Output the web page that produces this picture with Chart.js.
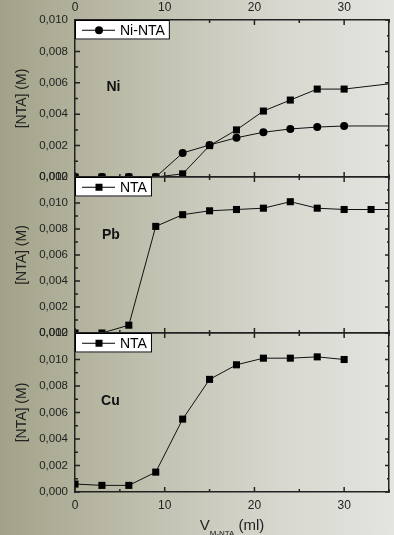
<!DOCTYPE html>
<html>
<head>
<meta charset="utf-8">
<script src="https://cdn.jsdelivr.net/npm/chart.js@4.4.0/dist/chart.umd.min.js"></script>
<style>
html, body { margin: 0; padding: 0; }
body {
  width: 394px; height: 535px; position: relative; overflow: hidden;
  background: linear-gradient(90deg, #a3a288 0%, #c2c2b2 40%, #d8d8d0 72%, #e4e4e0 100%);
}
canvas { position: absolute; left: 0; top: 0; }
</style>
</head>
<body>
<canvas id="niChart" width="394" height="535"></canvas>
<canvas id="pbChart" width="394" height="535"></canvas>
<canvas id="cuChart" width="394" height="535"></canvas>
<script>
// volume added (ml) and concentrations (M)
var niVol = [0, 3, 6, 9, 12, 15, 18, 21, 24, 27, 30, 36];
var niNTA = [0, 0, 0, 0, 0.00153, 0.00204, 0.0025, 0.00285, 0.00306, 0.00318, 0.00325, 0.00325];
var niFree = [0, 0, 0, 0, 0.0002, 0.002, 0.003, 0.0042, 0.0049, 0.0056, 0.0056, 0.006];

var pbVol = [0, 3, 6, 9, 12, 15, 18, 21, 24, 27, 30, 33, 36];
var pbNTA = [0, 0, 0.0006, 0.0082, 0.0091, 0.0094, 0.0095, 0.0096, 0.0101, 0.0096, 0.0095, 0.0095, 0.0095];

var cuVol = [0, 3, 6, 9, 12, 15, 18, 21, 24, 27, 30];
var cuNTA = [0.0006, 0.0005, 0.0005, 0.0015, 0.0055, 0.0085, 0.0096, 0.0101, 0.0101, 0.0102, 0.0100];

var xTicks = [0, 10, 20, 30];
var yTicksNi = [0, 0.002, 0.004, 0.006, 0.008, 0.010];
var yTicksMetal = [0, 0.002, 0.004, 0.006, 0.008, 0.010, 0.012];

Chart.defaults.font.family = '"Liberation Sans", Arial, sans-serif';
Chart.defaults.color = '#222';

var FONT = '"Liberation Sans", Arial, sans-serif';

function pts(xs, ys) {
  return xs.map(function (x, i) { return { x: x, y: ys[i] }; });
}

function series(label, xs, ys, style) {
  return {
    label: label,
    data: pts(xs, ys),
    borderColor: '#111',
    backgroundColor: '#000',
    borderWidth: 1,
    pointStyle: style,
    pointRadius: style === 'rect' ? 5 : 4,
    pointBorderWidth: 0,
    tension: 0
  };
}

function xScale(pos, h, showLabels) {
  return {
    type: 'linear', position: pos, min: 0, max: 35,
    afterBuildTicks: function (s) { s.ticks = xTicks.map(function (v) { return { value: v }; }); },
    afterFit: function (s) { s.height = h; s.paddingLeft = 0; s.paddingRight = 0; },
    grid: { drawOnChartArea: false, drawTicks: false },
    border: { color: '#222', width: 1.5 },
    ticks: { display: showLabels, padding: pos === 'top' ? 5 : 6, font: { size: 12 }, maxRotation: 0 }
  };
}

function yScale(pos, ticksArr, ymax) {
  var left = pos === 'left';
  return {
    type: 'linear', position: pos, min: 0, max: ymax,
    afterBuildTicks: function (s) { s.ticks = ticksArr.map(function (v) { return { value: v }; }); },
    afterFit: function (s) { s.width = left ? 75 : 1; s.paddingTop = 0; s.paddingBottom = 0; },
    grid: { drawOnChartArea: false, drawTicks: false },
    border: { color: '#222', width: 1.5 },
    title: { display: left, text: '[NTA] (M)', font: { size: 14 }, padding: { top: 14, bottom: 0 } },
    ticks: {
      display: left, padding: 7, font: { size: 11.5 },
      callback: function (v) { return Number(v).toFixed(3).replace('.', ','); }
    }
  };
}

// inward ticks, legend box, panel label
function decor(p) {
  return {
    id: 'decor',
    afterDraw: function (chart) {
      var ctx = chart.ctx, a = chart.chartArea;
      var xs = chart.scales.x, ys = chart.scales.y;
      ctx.save();
      ctx.strokeStyle = '#222';
      ctx.lineWidth = 1.5;
      ctx.beginPath();
      for (var v = 0; v <= 35; v += 5) {
        var px = xs.getPixelForValue(v);
        var len = v % 10 === 0 ? 5 : 3;
        ctx.moveTo(px, a.top); ctx.lineTo(px, a.top + len);
        ctx.moveTo(px, a.bottom); ctx.lineTo(px, a.bottom - len);
      }
      var n = Math.round(p.ymax * 1000);
      for (var i = 0; i <= n; i++) {
        var py = ys.getPixelForValue(i / 1000);
        var l = i % 2 === 0 ? 5 : 3;
        ctx.moveTo(a.left, py); ctx.lineTo(a.left + l, py);
        ctx.moveTo(a.right, py); ctx.lineTo(a.right - l + 1, py);
      }
      ctx.stroke();

      // legend
      ctx.font = '14px ' + FONT;
      var tw = ctx.measureText(p.legend).width;
      var x0 = a.left, y0 = a.top, h = 19.5, w = 45 + tw + 5;
      ctx.fillStyle = '#fff';
      ctx.fillRect(x0, y0, w, h);
      ctx.strokeStyle = '#000';
      ctx.lineWidth = 1;
      ctx.strokeRect(x0 + 0.5, y0 + 0.5, w - 1, h - 1);
      var my = y0 + h / 2 + 0.5;
      ctx.beginPath();
      ctx.moveTo(x0 + 7, my); ctx.lineTo(x0 + 40, my);
      ctx.stroke();
      ctx.fillStyle = '#000';
      if (p.marker === 'circle') {
        ctx.beginPath(); ctx.arc(x0 + 24, my, 4, 0, Math.PI * 2); ctx.fill();
      } else {
        ctx.fillRect(x0 + 20.5, my - 3.5, 7, 7);
      }
      ctx.textBaseline = 'middle';
      ctx.fillText(p.legend, x0 + 45, my + 0.5);

      // metal label
      ctx.font = 'bold 14px ' + FONT;
      ctx.textBaseline = 'alphabetic';
      ctx.fillStyle = '#111';
      ctx.fillText(p.name, xs.getPixelForValue(p.nameAt[0]), ys.getPixelForValue(p.nameAt[1]));

      // x axis title with subscript
      if (p.xTitle) {
        var parts = [['V', 15, 0], ['M-NTA', 8, 6], [' (ml)', 15, 0]];
        var total = 0;
        parts.forEach(function (q) { ctx.font = q[1] + 'px ' + FONT; total += ctx.measureText(q[0]).width; });
        var cx = (a.left + a.right) / 2 - total / 2;
        ctx.fillStyle = '#222';
        parts.forEach(function (q) {
          ctx.font = q[1] + 'px ' + FONT;
          ctx.fillText(q[0], cx, 530 + q[2]);
          cx += ctx.measureText(q[0]).width;
        });
      }
      ctx.restore();
    }
  };
}

function panel(id, p) {
  return new Chart(document.getElementById(id), {
    type: 'line',
    data: { datasets: p.datasets },
    options: {
      responsive: false,
      animation: false,
      devicePixelRatio: 1,
      layout: { padding: { top: p.padTop, bottom: p.padBottom, left: 0, right: 0 } },
      plugins: { legend: { display: false }, tooltip: { enabled: false } },
      scales: {
        x: xScale('bottom', p.bottomH, p.xTitle),
        x2: xScale('top', p.topH, p.topLabels),
        y: yScale('left', p.yTicks, p.ymax),
        y2: yScale('right', p.yTicks, p.ymax)
      }
    },
    plugins: [decor(p)]
  });
}

panel('niChart', {
  datasets: [series('NTA', niVol, niFree, 'rect'), series('Ni-NTA', niVol, niNTA, 'circle')],
  padTop: 0, padBottom: 358, topH: 20, bottomH: 0, topLabels: true, xTitle: false,
  yTicks: yTicksNi, ymax: 0.010, legend: 'Ni-NTA', marker: 'circle', name: 'Ni', nameAt: [3.5, 0.0055]
});

panel('pbChart', {
  datasets: [series('NTA', pbVol, pbNTA, 'rect')],
  padTop: 177, padBottom: 202, topH: 0, bottomH: 0, topLabels: false, xTitle: false,
  yTicks: yTicksMetal, ymax: 0.012, legend: 'NTA', marker: 'rect', name: 'Pb', nameAt: [3.0, 0.0072]
});

panel('cuChart', {
  datasets: [series('NTA', cuVol, cuNTA, 'rect')],
  padTop: 333, padBottom: 0, topH: 0, bottomH: 43, topLabels: false, xTitle: true,
  yTicks: yTicksMetal, ymax: 0.012, legend: 'NTA', marker: 'rect', name: 'Cu', nameAt: [2.9, 0.0066]
});
</script>
</body>
</html>
